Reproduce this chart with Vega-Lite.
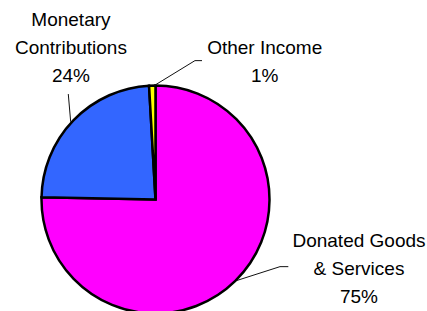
{
  "$schema": "https://vega.github.io/schema/vega-lite/v6.json",
  "width": 311,
  "height": 223,
  "autosize": {"type": "none"},
  "padding": {"left": 0, "top": 88, "right": 116, "bottom": 0},
  "background": "white",
  "config": {"view": {"stroke": null}},
  "datasets": {
    "slices": [
      {"category": "Donated Goods & Services", "label": "Donated Goods\n& Services\n75%", "value": 75.3, "rank": 1},
      {"category": "Monetary Contributions", "label": "Monetary\nContributions\n24%", "value": 23.8, "rank": 2},
      {"category": "Other Income", "label": "Other Income\n1%", "value": 0.9, "rank": 3}
    ],
    "leaders": [
      {"leader": "Monetary Contributions", "seq": 1, "px": -0.765, "py": 0.925},
      {"leader": "Monetary Contributions", "seq": 2, "px": -0.744, "py": 0.682},
      {"leader": "Other Income", "seq": 1, "px": -0.01, "py": 1.0},
      {"leader": "Other Income", "seq": 2, "px": 0.346, "py": 1.218},
      {"leader": "Other Income", "seq": 3, "px": 0.408, "py": 1.218},
      {"leader": "Donated Goods & Services", "seq": 1, "px": 0.715, "py": -0.71},
      {"leader": "Donated Goods & Services", "seq": 2, "px": 1.092, "py": -0.589},
      {"leader": "Donated Goods & Services", "seq": 3, "px": 1.165, "py": -0.589}
    ]
  },
  "layer": [
    {
      "data": {"name": "slices"},
      "mark": {"type": "arc", "radius": 114, "stroke": "black", "strokeWidth": 2.5},
      "encoding": {
        "theta": {"field": "value", "type": "quantitative", "stack": true},
        "order": {"field": "rank", "type": "quantitative"},
        "color": {
          "field": "category",
          "type": "nominal",
          "scale": {
            "domain": ["Donated Goods & Services", "Monetary Contributions", "Other Income"],
            "range": ["#FF00FF", "#3366FF", "#FFFF00"]
          },
          "legend": null
        }
      }
    },
    {
      "data": {"name": "leaders"},
      "mark": {"type": "line", "color": "#111111", "strokeWidth": 1, "clip": false},
      "encoding": {
        "x": {"field": "px", "type": "quantitative", "scale": {"domain": [-1.364, 1.364], "nice": false, "zero": false}, "axis": null},
        "y": {"field": "py", "type": "quantitative", "scale": {"domain": [-0.978, 0.978], "nice": false, "zero": false}, "axis": null},
        "detail": {"field": "leader", "type": "nominal"},
        "order": {"field": "seq", "type": "quantitative"}
      }
    },
    {
      "data": {"name": "slices"},
      "mark": {"type": "text", "radius": 192, "dx": 69, "dy": -96, "font": "Liberation Sans", "fontSize": 19, "lineBreak": "\n", "lineHeight": 28, "align": "center", "baseline": "middle", "color": "black"},
      "encoding": {
        "theta": {"field": "value", "type": "quantitative", "stack": true},
        "order": {"field": "rank", "type": "quantitative"},
        "text": {"condition": {"test": "datum.rank === 1", "field": "label"}, "value": ""}
      }
    },
    {
      "data": {"name": "slices"},
      "mark": {"type": "text", "radius": 166, "dx": 35, "dy": -64, "font": "Liberation Sans", "fontSize": 19, "lineBreak": "\n", "lineHeight": 28, "align": "center", "baseline": "middle", "color": "black"},
      "encoding": {
        "theta": {"field": "value", "type": "quantitative", "stack": true},
        "order": {"field": "rank", "type": "quantitative"},
        "text": {"condition": {"test": "datum.rank === 2", "field": "label"}, "value": ""}
      }
    },
    {
      "data": {"name": "slices"},
      "mark": {"type": "text", "radius": 135, "dx": 113, "dy": -17, "font": "Liberation Sans", "fontSize": 19, "lineBreak": "\n", "lineHeight": 28, "align": "center", "baseline": "middle", "color": "black"},
      "encoding": {
        "theta": {"field": "value", "type": "quantitative", "stack": true},
        "order": {"field": "rank", "type": "quantitative"},
        "text": {"condition": {"test": "datum.rank === 3", "field": "label"}, "value": ""}
      }
    }
  ]
}
